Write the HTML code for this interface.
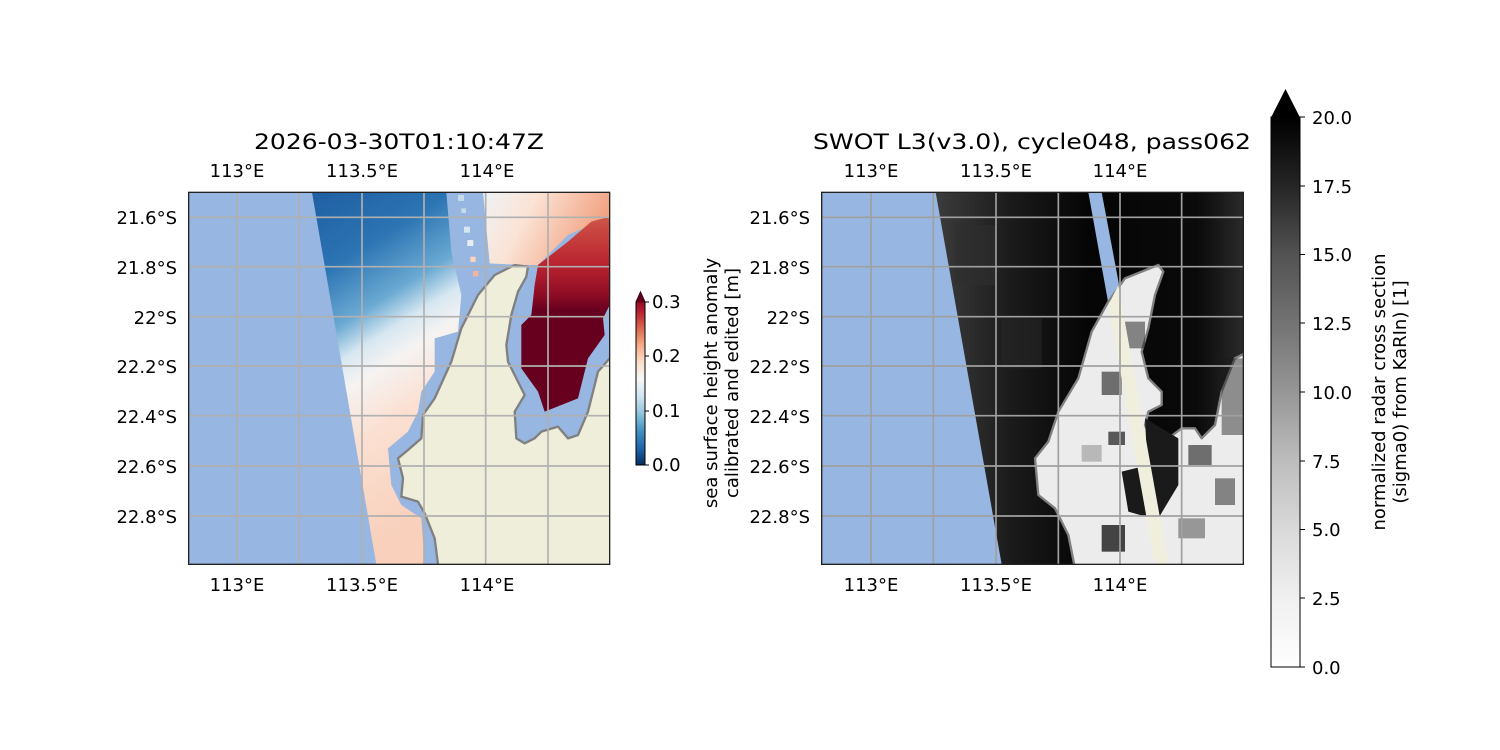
<!DOCTYPE html>
<html><head><meta charset="utf-8"><style>
body{margin:0;background:#fff}
svg{display:block}
text{font-family:"DejaVu Sans","Liberation Sans",sans-serif;fill:#000}
</style></head><body>
<svg width="1500" height="750" viewBox="0 0 1500 750" xmlns="http://www.w3.org/2000/svg">
<defs>
<linearGradient id="lsw" x1="0" y1="0" x2="0.25" y2="1">
<stop offset="0" stop-color="#1f5fa3"/><stop offset="0.22" stop-color="#2c74b3"/><stop offset="0.38" stop-color="#6aa9d2"/><stop offset="0.47" stop-color="#d6e7f1"/><stop offset="0.55" stop-color="#f5f3f2"/><stop offset="0.7" stop-color="#fbe0d2"/><stop offset="1" stop-color="#f8d0bb"/>
</linearGradient>
<linearGradient id="rsw" x1="0" y1="0" x2="1" y2="0.3">
<stop offset="0" stop-color="#eef3f6"/><stop offset="0.4" stop-color="#fbe3d5"/><stop offset="1" stop-color="#f1a07f"/>
</linearGradient>
<linearGradient id="red" x1="0" y1="0" x2="0" y2="1">
<stop offset="0" stop-color="#d05548"/><stop offset="0.25" stop-color="#b8222f"/><stop offset="0.4" stop-color="#8f0d25"/><stop offset="0.48" stop-color="#67001f"/><stop offset="1" stop-color="#67001f"/>
</linearGradient>
<linearGradient id="dsw" x1="0" y1="0" x2="1" y2="0">
<stop offset="0" stop-color="#3c3c3c"/><stop offset="0.25" stop-color="#1a1a1a"/><stop offset="0.5" stop-color="#050505"/><stop offset="0.85" stop-color="#0a0a0a"/><stop offset="1" stop-color="#2a2a2a"/>
</linearGradient>
<linearGradient id="cb1" x1="0" y1="1" x2="0" y2="0">
<stop offset="0" stop-color="#053061"/><stop offset="0.1" stop-color="#2166ac"/><stop offset="0.2" stop-color="#4393c3"/><stop offset="0.3" stop-color="#92c5de"/><stop offset="0.4" stop-color="#d1e5f0"/><stop offset="0.5" stop-color="#f7f7f7"/><stop offset="0.6" stop-color="#fddbc7"/><stop offset="0.7" stop-color="#f4a582"/><stop offset="0.8" stop-color="#d6604d"/><stop offset="0.9" stop-color="#b2182b"/><stop offset="1" stop-color="#67001f"/>
</linearGradient>
<linearGradient id="cb2" x1="0" y1="1" x2="0" y2="0">
<stop offset="0" stop-color="#ffffff"/><stop offset="0.125" stop-color="#f0f0f0"/><stop offset="0.25" stop-color="#d9d9d9"/><stop offset="0.375" stop-color="#bdbdbd"/><stop offset="0.5" stop-color="#969696"/><stop offset="0.625" stop-color="#737373"/><stop offset="0.75" stop-color="#525252"/><stop offset="0.875" stop-color="#252525"/><stop offset="1" stop-color="#000000"/>
</linearGradient>
<clipPath id="c1"><rect x="2" y="22" width="1263" height="1116"/></clipPath>
<clipPath id="c2"><rect x="20" y="22" width="1265" height="1116"/></clipPath>
</defs>

<!-- LEFT MAP -->
<g transform="translate(188,185) scale(0.33333)">
<g clip-path="url(#c1)">
<rect x="0" y="0" width="1300" height="1200" fill="#97b6e1"/>
<polygon fill="url(#lsw)" points="372,22 775,22 790,200 820,330 810,440 740,460 740,560 700,620 690,680 660,740 600,790 610,900 640,960 700,1000 710,1138 565,1138"/>
<polygon fill="url(#rsw)" points="885,22 1265,22 1265,95 1140,150 1050,240 1000,240 905,235"/>
<polygon fill="url(#red)" points="1050,240 1140,170 1210,110 1265,95 1265,360 1245,400 1250,450 1200,520 1170,640 1070,680 1050,620 1000,550 1000,420 1030,390 1040,300"/>
<rect x="810" y="30" width="18" height="18" fill="#c6dbe9"/><rect x="820" y="70" width="14" height="14" fill="#c6dbe9"/><rect x="828" y="125" width="18" height="18" fill="#d6e7f1"/><rect x="838" y="165" width="18" height="18" fill="#e6eef3"/><rect x="847" y="215" width="16" height="16" fill="#f9d4c0"/><rect x="855" y="258" width="16" height="16" fill="#f4b497"/>
<polygon fill="#efeedb" stroke="#808080" stroke-width="7" stroke-linejoin="round" points="750,1138 740,1060 710,985 690,950 640,935 645,880 630,820 660,795 700,760 705,690 740,640 790,530 820,430 870,330 920,270 980,240 1020,245 1015,275 990,320 970,390 955,480 960,530 990,590 1010,630 980,680 985,760 1010,775 1040,760 1060,740 1110,725 1140,760 1170,750 1200,680 1230,560 1265,520 1300,520 1300,1200 750,1200"/>
<g stroke="#b0b0b0" stroke-width="5">
<line x1="147" y1="0" x2="147" y2="1200"/><line x1="333" y1="0" x2="333" y2="1200"/><line x1="522" y1="0" x2="522" y2="1200"/><line x1="708" y1="0" x2="708" y2="1200"/><line x1="893" y1="0" x2="893" y2="1200"/><line x1="1080" y1="0" x2="1080" y2="1200"/>
<line x1="0" y1="97" x2="1300" y2="97"/><line x1="0" y1="245" x2="1300" y2="245"/><line x1="0" y1="395" x2="1300" y2="395"/><line x1="0" y1="543" x2="1300" y2="543"/><line x1="0" y1="692" x2="1300" y2="692"/><line x1="0" y1="843" x2="1300" y2="843"/><line x1="0" y1="993" x2="1300" y2="993"/>
</g>
</g>
<rect x="2" y="22" width="1263" height="1116" fill="none" stroke="#222" stroke-width="4"/>
</g>

<!-- RIGHT MAP -->
<g transform="translate(815,185) scale(0.33333)">
<g clip-path="url(#c2)">
<rect x="0" y="0" width="1300" height="1200" fill="#97b6e1"/>
<polygon fill="url(#dsw)" points="362,22 1285,22 1285,1138 560,1138"/>
<rect x="420" y="120" width="120" height="180" fill="#2e2e2e" opacity="0.6"/>
<rect x="560" y="400" width="120" height="150" fill="#2a2a2a" opacity="0.5"/>
<polygon fill="#97b6e1" points="820,22 860,22 912,298 880,355"/>
<polygon fill="#ececec" stroke="#808080" stroke-width="7" stroke-linejoin="round" points="880,350 930,280 1030,240 1045,260 1020,330 1000,430 980,500 1000,580 1040,620 1040,660 1000,680 990,720 1010,770 1060,760 1100,730 1140,730 1160,760 1200,720 1220,620 1260,520 1300,500 1300,1200 790,1200 760,1050 720,970 670,930 660,820 700,770 730,680 790,580 830,440"/>
<g fill="#1a1a1a">
<rect x="930" y="410" width="60" height="80" opacity="0.5"/>
<rect x="860" y="560" width="60" height="70" opacity="0.6"/>
<rect x="880" y="740" width="50" height="40" opacity="0.7"/>
<polygon points="920,860 1000,840 1010,1000 940,980"/>
<rect x="860" y="1020" width="70" height="80" opacity="0.8"/>
<polygon points="990,700 1090,760 1090,900 1030,1000 1000,900"/>
<rect x="1120" y="780" width="70" height="60" opacity="0.6"/>
<rect x="1200" y="880" width="60" height="80" opacity="0.5"/>
<rect x="1090" y="1000" width="80" height="60" opacity="0.4"/>
<rect x="1220" y="520" width="65" height="230" opacity="0.45"/>
<rect x="800" y="780" width="60" height="50" opacity="0.25"/>
</g>
<polygon fill="#f0eedc" points="880,360 910,300 1060,1138 1020,1138"/>
<g stroke="#a0a0a0" stroke-width="5">
<line x1="168" y1="0" x2="168" y2="1200"/><line x1="355" y1="0" x2="355" y2="1200"/><line x1="543" y1="0" x2="543" y2="1200"/><line x1="730" y1="0" x2="730" y2="1200"/><line x1="915" y1="0" x2="915" y2="1200"/><line x1="1100" y1="0" x2="1100" y2="1200"/>
<line x1="0" y1="97" x2="1300" y2="97"/><line x1="0" y1="245" x2="1300" y2="245"/><line x1="0" y1="395" x2="1300" y2="395"/><line x1="0" y1="543" x2="1300" y2="543"/><line x1="0" y1="692" x2="1300" y2="692"/><line x1="0" y1="843" x2="1300" y2="843"/><line x1="0" y1="993" x2="1300" y2="993"/>
</g>
</g>
<rect x="20" y="22" width="1265" height="1116" fill="none" stroke="#222" stroke-width="4"/>
</g>

<!-- titles -->
<text x="399" y="149" font-size="21" text-anchor="middle" textLength="290" lengthAdjust="spacingAndGlyphs">2026-03-30T01:10:47Z</text>
<text x="1032" y="149" font-size="21" text-anchor="middle" textLength="438" lengthAdjust="spacingAndGlyphs">SWOT L3(v3.0), cycle048, pass062</text>

<g font-size="18" text-anchor="middle">
<text x="237" y="177">113°E</text><text x="362" y="177">113.5°E</text><text x="487" y="177">114°E</text>
<text x="237" y="591">113°E</text><text x="362" y="591">113.5°E</text><text x="487" y="591">114°E</text>
<text x="871" y="177">113°E</text><text x="996" y="177">113.5°E</text><text x="1120" y="177">114°E</text>
<text x="871" y="591">113°E</text><text x="996" y="591">113.5°E</text><text x="1120" y="591">114°E</text>
</g>
<g font-size="18" text-anchor="end">
<text x="177" y="224">21.6°S</text><text x="177" y="274">21.8°S</text><text x="177" y="324">22°S</text><text x="177" y="373">22.2°S</text><text x="177" y="423">22.4°S</text><text x="177" y="473">22.6°S</text><text x="177" y="523">22.8°S</text>
<text x="810" y="224">21.6°S</text><text x="810" y="274">21.8°S</text><text x="810" y="324">22°S</text><text x="810" y="373">22.2°S</text><text x="810" y="423">22.4°S</text><text x="810" y="473">22.6°S</text><text x="810" y="523">22.8°S</text>
</g>

<!-- left colorbar -->
<polygon points="636,302 640.5,292 645,302 645,465 636,465" fill="url(#cb1)" stroke="#000" stroke-width="1"/>
<polygon points="636,302.5 640.5,292 645,302.5" fill="#67001f"/>
<g stroke="#000" stroke-width="1"><line x1="645" y1="302" x2="649" y2="302"/><line x1="645" y1="356" x2="649" y2="356"/><line x1="645" y1="411" x2="649" y2="411"/><line x1="645" y1="465" x2="649" y2="465"/></g>
<g font-size="18"><text x="652" y="308">0.3</text><text x="652" y="362">0.2</text><text x="652" y="417">0.1</text><text x="652" y="471">0.0</text></g>
<text font-size="18" text-anchor="middle" transform="translate(717,383) rotate(-90)">sea surface height anomaly</text>
<text font-size="18" text-anchor="middle" transform="translate(738,383) rotate(-90)">calibrated and edited [m]</text>

<!-- right colorbar -->
<rect x="1271" y="117" width="29" height="550" fill="url(#cb2)" stroke="#000" stroke-width="1"/>
<polygon points="1271,117.5 1285.5,89 1300,117.5" fill="#000"/>
<g stroke="#000" stroke-width="1">
<line x1="1300" y1="117" x2="1305" y2="117"/><line x1="1300" y1="186" x2="1305" y2="186"/><line x1="1300" y1="254.5" x2="1305" y2="254.5"/><line x1="1300" y1="323" x2="1305" y2="323"/><line x1="1300" y1="392" x2="1305" y2="392"/><line x1="1300" y1="461" x2="1305" y2="461"/><line x1="1300" y1="529.5" x2="1305" y2="529.5"/><line x1="1300" y1="598" x2="1305" y2="598"/><line x1="1300" y1="667" x2="1305" y2="667"/>
</g>
<g font-size="18">
<text x="1312" y="124">20.0</text><text x="1312" y="193">17.5</text><text x="1312" y="261">15.0</text><text x="1312" y="330">12.5</text><text x="1312" y="399">10.0</text><text x="1312" y="468">7.5</text><text x="1312" y="536">5.0</text><text x="1312" y="605">2.5</text><text x="1312" y="674">0.0</text>
</g>
<text font-size="18" text-anchor="middle" transform="translate(1385,392) rotate(-90)">normalized radar cross section</text>
<text font-size="18" text-anchor="middle" transform="translate(1406,392) rotate(-90)">(sigma0) from KaRIn) [1]</text>
</svg>
</body></html>
